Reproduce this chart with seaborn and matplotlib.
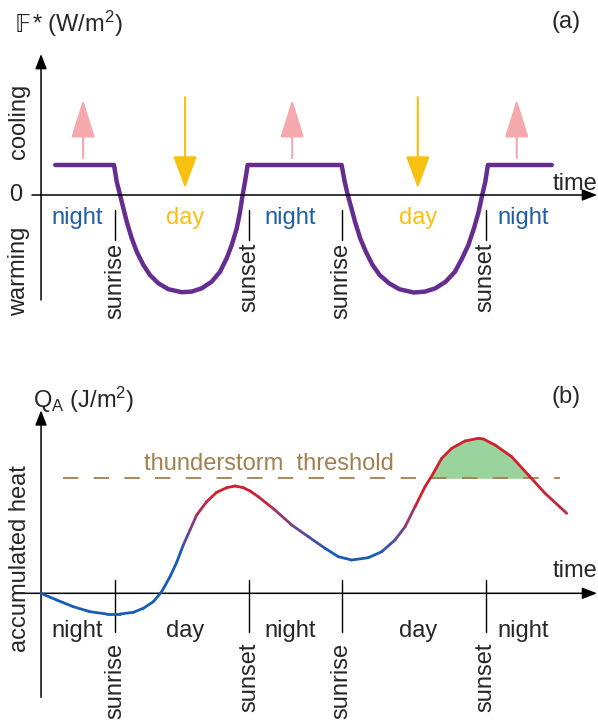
import numpy as np
import pandas as pd
import matplotlib
matplotlib.use("Agg")
import matplotlib.pyplot as plt
from matplotlib.collections import LineCollection
from matplotlib.colors import LinearSegmentedColormap
import seaborn as sns

# ---- data (schematic) ----
# panel (a): net radiation F*, time in hours
t_fstar = [0.2, 5.9,
           6.17, 6.49, 6.81, 7.14, 7.62, 8.11, 8.75, 9.40, 10.20, 11.17, 12.48, 13.45, 14.42,
           15.39, 16.19, 16.84, 17.33, 17.82, 18.14, 18.36, 18.62,
           18.88, 28.0,
           28.3, 28.6, 28.95, 29.3, 29.8, 30.35, 31.0, 31.7, 32.6, 33.6, 35.0, 36.1, 37.1,
           38.1, 39.0, 39.7, 40.3, 40.85, 41.3, 41.65, 41.95,
           42.2, 48.4]
fstar = [100, 100,
         44, 0, -44, -89, -144, -189, -233, -267, -294, -314, -324, -322, -311,
         -289, -256, -211, -167, -111, -56, -6, 44,
         100, 100,
         44, 0, -44, -89, -144, -189, -233, -267, -294, -314, -325, -322, -311,
         -289, -256, -211, -167, -111, -56, 0, 44,
         100, 100]

# panel (b): accumulated heat Q_A
t_qa = [-1.2, 0.34, 1.95, 3.57, 5.19, 6.49, 7.78, 8.75, 9.72, 10.53, 11.34, 11.99, 12.63, 13.28,
        13.93, 14.90, 15.87, 16.84, 17.65, 18.46, 19.11, 19.91, 21.53, 23.16, 24.77, 26.39,
        27.68, 28.98, 30.59, 31.89, 33.18, 34.16, 35.13, 36.10, 36.90, 37.72, 38.69, 39.98,
        41.27, 41.76, 42.89, 44.51, 46.13, 47.75, 49.85]
qa = [0, -0.67, -1.34, -1.84, -2.07, -2.07, -1.90, -1.50, -0.84, 0.16, 1.66, 3.10, 4.83, 6.33,
      7.83, 9.16, 10.10, 10.56, 10.73, 10.56, 10.23, 9.66, 8.33, 6.83, 5.66, 4.50,
      3.66, 3.33, 3.56, 4.16, 5.33, 6.66, 8.66, 10.66, 12.0, 13.5, 14.5, 15.23,
      15.5, 15.43, 14.83, 13.66, 11.83, 10.0, 8.0]
threshold = 11.5

sun_times = [6, 19, 28, 42]
sun_labels = ["sunrise", "sunset", "sunrise", "sunset"]
period_x = [2.3, 12.8, 23.0, 35.4, 45.6]
period_labels = ["night", "day", "night", "day", "night"]
up_arrow_x = [2.9, 23.2, 45.0]
down_arrow_x = [12.8, 35.4]

# ---- style ----
sns.set_style("white")
plt.rcParams["font.family"] = ["Liberation Sans", "DejaVu Sans"]
plt.rcParams["mathtext.fontset"] = "custom"
plt.rcParams["mathtext.rm"] = "Liberation Sans"
plt.rcParams["mathtext.it"] = "Liberation Sans:italic"

FS = 17
purple = "#662d91"
night_blue = "#1f5fa8"
day_gold = "#f8c10f"
pink = "#f5a9ad"
tan = "#a0804f"

fig = plt.figure(figsize=(5.98, 7.24), dpi=100)
XLIM = (-5.165, 52.89)
ax_a = fig.add_axes([0, 1 - 360 / 724, 1, 360 / 724])
ax_b = fig.add_axes([0, 0, 1, 364 / 724])
for ax in (ax_a, ax_b):
    ax.set_xlim(*XLIM)
    ax.axis("off")
ax_a.set_ylim(-550, 650)
ax_b.set_ylim(-13.07, 23.33)

def axis_arrow(ax, x0, y0, x1, y1):
    ax.annotate("", xy=(x1, y1), xytext=(x0, y0),
                arrowprops=dict(arrowstyle="-|>,head_length=9,head_width=3.5",
                                mutation_scale=1, color="black", lw=1.1,
                                shrinkA=0, shrinkB=0))

# ---- panel (a) ----
df_a = pd.DataFrame({"t": t_fstar, "F": fstar})
sns.lineplot(data=df_a, x="t", y="F", ax=ax_a, color=purple, lw=3.2,
             sort=False, estimator=None, solid_capstyle="round", solid_joinstyle="round")

axis_arrow(ax_a, -2.06, 0, 52.8, 0)
axis_arrow(ax_a, -1.18, -350, -1.18, 470)

for t, lab in zip(sun_times, sun_labels):
    ax_a.plot([t, t], [-50, -150], color="black", lw=1.0)
    ax_a.text(t, -160, lab, rotation=90, ha="center", va="top", fontsize=FS)

for x, lab in zip(period_x, period_labels):
    ax_a.text(x, -97, lab, ha="center", va="baseline", fontsize=FS,
              color=night_blue if lab == "night" else day_gold)

for x in up_arrow_x:
    ax_a.annotate("", xy=(x, 318), xytext=(x, 123),
                  arrowprops=dict(arrowstyle="-|>,head_length=24,head_width=7.5",
                                  mutation_scale=1, color=pink, lw=1.5,
                                  shrinkA=0, shrinkB=0))
for x in down_arrow_x:
    ax_a.annotate("", xy=(x, 23), xytext=(x, 326),
                  arrowprops=dict(arrowstyle="-|>,head_length=20,head_width=7.5",
                                  mutation_scale=1, color=day_gold, lw=1.5,
                                  shrinkA=0, shrinkB=0))

ax_a.text(52.8, 17, "time", ha="right", va="baseline", fontsize=FS)
ax_a.text(-3.6, 0, "0", ha="center", va="center", fontsize=FS)
ax_a.text(-3.35, 247, "cooling", rotation=90, ha="center", va="center", fontsize=FS)
ax_a.text(-3.35, -253, "warming", rotation=90, ha="center", va="center", fontsize=FS)
ax_a.text(-3.7, 545, "\U0001D53D", ha="left", va="baseline", fontsize=FS,
          family=["DejaVu Sans"])
ax_a.annotate("* (W/m$^2$)", xy=(-3.7, 545), xytext=(12, 0), textcoords="offset points",
              ha="left", va="baseline", fontsize=FS)
ax_a.text(49.8, 576, "(a)", ha="center", va="center", fontsize=FS)

# ---- panel (b) ----
axis_arrow(ax_b, -3.8, 0, 52.8, 0)
axis_arrow(ax_b, -1.18, -10.4, -1.18, 18.3)

for t, lab in zip(sun_times, sun_labels):
    ax_b.plot([t, t], [1.33, -3.87], color="black", lw=1.0)
    ax_b.text(t, -4.97, lab, rotation=90, ha="center", va="top", fontsize=FS)

for x, lab in zip(period_x, period_labels):
    ax_b.text(x, -4.37, lab, ha="center", va="baseline", fontsize=FS)

# threshold and exceedance area
df_thr = pd.DataFrame({"t": [0.95, 49.2], "q": [threshold, threshold]})
sns.lineplot(data=df_thr, x="t", y="q", ax=ax_b, color=tan, lw=1.3,
             dashes=False, linestyle=(0, (8.5, 8.5)))
tq = np.array(t_qa)
qv = np.array(qa)
ax_b.fill_between(tq, threshold, qv, where=qv >= threshold, interpolate=True,
                  color="#9bd39e", lw=0, zorder=1)
ax_b.text(20.9, 12.3, "thunderstorm  threshold", ha="center", va="baseline",
          fontsize=FS, color=tan)

# colour-graded Q_A curve (blue = low, red = high)
cmap = LinearSegmentedColormap.from_list("qa", ["#1a5cb0", "#7a3f8a", "#d0202e"])
pts = np.column_stack([tq, qv]).reshape(-1, 1, 2)
segs = np.concatenate([pts[:-1], pts[1:]], axis=1)
lc = LineCollection(segs, cmap=cmap, norm=plt.Normalize(4.0, 9.5), lw=2.0,
                    capstyle="round", joinstyle="round", zorder=3)
lc.set_array((qv[:-1] + qv[1:]) / 2)
ax_b.add_collection(lc)

ax_b.text(52.8, 1.63, "time", ha="right", va="baseline", fontsize=FS)
ax_b.text(-3.27, 3.5, "accumulated heat", rotation=90, ha="center", va="center", fontsize=FS)
ax_b.text(-1.96, 19.3, r"Q$_\mathrm{A}$ (J/m$^2$)", ha="left", va="center", fontsize=FS)
ax_b.text(49.8, 19.6, "(b)", ha="center", va="center", fontsize=FS)

fig.savefig("out.png", dpi=100)
